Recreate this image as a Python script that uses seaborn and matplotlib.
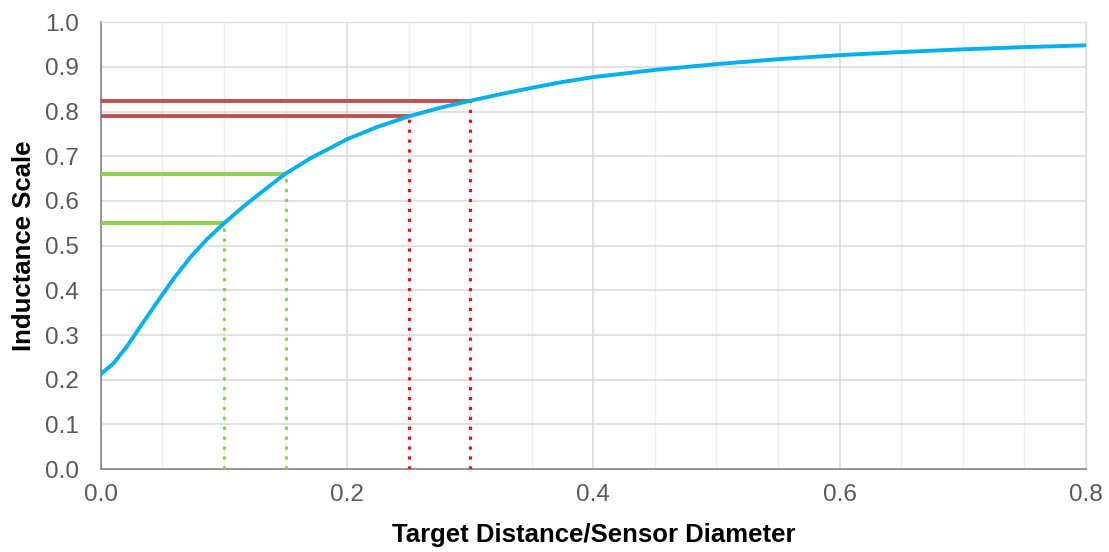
import matplotlib.pyplot as plt
import pandas as pd
import numpy as np
import seaborn as sns
from matplotlib.ticker import MultipleLocator

# 曲线数据
distance = [0.0, 0.010, 0.021, 0.032, 0.0455, 0.059, 0.073, 0.086, 0.10, 0.116,
            0.1325, 0.15, 0.17, 0.20, 0.225, 0.25, 0.275, 0.30, 0.325, 0.35,
            0.375, 0.40, 0.45, 0.50, 0.55, 0.60, 0.65, 0.70, 0.75, 0.80]
inductance = [0.213, 0.236, 0.274, 0.319, 0.373, 0.426, 0.475, 0.514, 0.550, 0.588,
              0.624, 0.661, 0.695, 0.738, 0.766, 0.789, 0.808, 0.824, 0.839, 0.853,
              0.866, 0.877, 0.893, 0.906, 0.917, 0.926, 0.933, 0.939, 0.944, 0.948]

# 标注点
green_x = [0.10, 0.15]
green_y = [0.550, 0.661]
red_x = [0.25, 0.30]
red_y = [0.789, 0.824]

df = pd.DataFrame({"x": distance, "y": inductance})

sns.set_style("whitegrid")
plt.rcParams['font.family'] = ['Liberation Sans', 'DejaVu Sans']

fig = plt.figure(figsize=(11.09, 5.52), dpi=100)
ax = fig.add_axes([0.091, 0.150, 0.888, 0.810])

# 水平实线
ax.hlines(green_y, 0, green_x, color="#8fd14f", lw=2.8, zorder=3)
ax.hlines(red_y, 0, red_x, color="#c0504d", lw=2.8, zorder=3)
# 竖直点线
ax.vlines(green_x, 0, green_y, color="#8fd14f", lw=2.3, linestyles=(0, (1, 2.1)), zorder=3)
ax.vlines(red_x, 0, red_y, color="#e8141c", lw=2.3, linestyles=(0, (1, 2.1)), zorder=3)

sns.lineplot(data=df, x="x", y="y", ax=ax, color="#00b0f0", lw=2.8, zorder=4)

ax.set_xlim(0, 0.8)
ax.set_ylim(0, 1.0)
ax.xaxis.set_major_locator(MultipleLocator(0.2))
ax.xaxis.set_minor_locator(MultipleLocator(0.05))
ax.yaxis.set_major_locator(MultipleLocator(0.1))
ax.xaxis.set_major_formatter(plt.FormatStrFormatter("%.1f"))
ax.yaxis.set_major_formatter(plt.FormatStrFormatter("%.1f"))

ax.grid(which="major", axis="both", color="#d9d9d9", lw=1.1)
ax.grid(which="minor", axis="x", color="#efefef", lw=1.0)
ax.set_axisbelow(True)

for s in ["left", "bottom"]:
    ax.spines[s].set_color("#8c8c8c")
    ax.spines[s].set_linewidth(1.3)
for s in ["top", "right"]:
    ax.spines[s].set_color("#e0e0e0")
    ax.spines[s].set_linewidth(1.0)

ax.tick_params(axis="both", which="major", length=5, width=1.2, color="#8c8c8c",
               labelsize=17.5, labelcolor="#595959")
ax.tick_params(axis="y", which="major", pad=11)
ax.tick_params(axis="x", which="major", pad=6)
ax.tick_params(axis="x", which="minor", length=0)

ax.set_xlabel("Target Distance/Sensor Diameter", fontsize=18.5, fontweight="bold",
              color="black", labelpad=12)
ax.set_ylabel("Inductance Scale", fontsize=18.5, fontweight="bold",
              color="black", labelpad=6)

fig.savefig("out.png", dpi=100)
